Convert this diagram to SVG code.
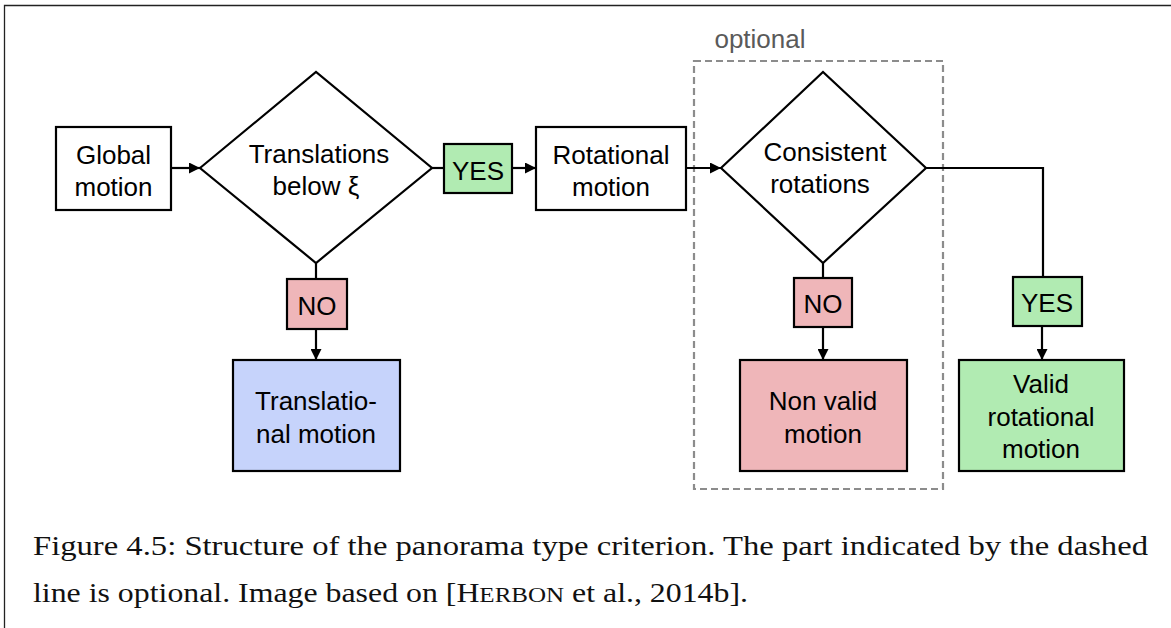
<svg xmlns="http://www.w3.org/2000/svg" width="1171" height="628" viewBox="0 0 1171 628">
  <style>
    .box { stroke: #000; stroke-width: 2.2; }
    .lbl { font-family: "Liberation Sans", Arial, sans-serif; font-size: 26px; fill: #000; text-anchor: middle; }
    .wire { fill: none; stroke: #000; stroke-width: 2.2; }
    .cap { font-family: "Liberation Serif", "Times New Roman", serif; font-size: 28px; fill: #111; }
  </style>
  <defs>
    <marker id="arrow" viewBox="0 0 10 10" refX="10" refY="5" markerWidth="5.5" markerHeight="5" markerUnits="strokeWidth" orient="auto">
      <path d="M0,0 L10,5 L0,10 Z" fill="#000"/>
    </marker>
  </defs>

  <rect width="1171" height="628" fill="#fff"/>
  <!-- page frame -->
  <path d="M4.5,628 L4.5,5.5 L1171,5.5" fill="none" stroke="#222" stroke-width="1.3"/>

  <!-- optional region -->
  <g id="optional-region">
    <rect x="694" y="61" width="249" height="428" fill="none" stroke="#8c8c8c" stroke-width="2.2" stroke-dasharray="7,4"/>
    <text x="760" y="48" font-family="Liberation Sans, Arial, sans-serif" font-size="26" fill="#5a5a5a" text-anchor="middle">optional</text>
  </g>

  <!-- connectors -->
  <g id="connectors">
    <line class="wire" x1="171" y1="168" x2="200" y2="168" marker-end="url(#arrow)"/>
    <line class="wire" x1="432" y1="168" x2="444" y2="168"/>
    <line class="wire" x1="512" y1="168" x2="536" y2="168" marker-end="url(#arrow)"/>
    <line class="wire" x1="686" y1="168" x2="721" y2="168" marker-end="url(#arrow)"/>
    <polyline class="wire" points="926,168 1043,168 1043,277"/>
    <line class="wire" x1="1042" y1="326" x2="1042" y2="360" marker-end="url(#arrow)"/>
    <line class="wire" x1="316" y1="263" x2="316" y2="279"/>
    <line class="wire" x1="316" y1="329" x2="316" y2="360" marker-end="url(#arrow)"/>
    <line class="wire" x1="823" y1="263" x2="823" y2="278"/>
    <line class="wire" x1="823" y1="327" x2="823" y2="360" marker-end="url(#arrow)"/>
  </g>

  <g id="global-motion">
    <rect class="box" x="56" y="127" width="115" height="83" fill="#fff"/>
    <text class="lbl" x="113.5" y="164">Global</text>
    <text class="lbl" x="113.5" y="196">motion</text>
  </g>

  <g id="translations-below">
    <polygon class="box" points="200,168 316,72 432,168 316,263" fill="#fff"/>
    <text class="lbl" x="319" y="163">Translations</text>
    <text class="lbl" x="316" y="195">below ξ</text>
  </g>

  <g id="yes-1">
    <rect class="box" x="444" y="144" width="68" height="49" fill="#b1ebb2"/>
    <text class="lbl" x="478" y="180">YES</text>
  </g>

  <g id="rotational-motion">
    <rect class="box" x="536" y="127" width="150" height="83" fill="#fff"/>
    <text class="lbl" x="611" y="164">Rotational</text>
    <text class="lbl" x="611" y="196">motion</text>
  </g>

  <g id="consistent-rotations">
    <polygon class="box" points="721,168 823,72 926,168 823,263" fill="#fff"/>
    <text class="lbl" x="825" y="161">Consistent</text>
    <text class="lbl" x="820" y="193">rotations</text>
  </g>

  <g id="no-1">
    <rect class="box" x="287" y="279" width="60" height="50" fill="#efb6b9"/>
    <text class="lbl" x="317" y="315">NO</text>
  </g>

  <g id="translational-motion">
    <rect class="box" x="233" y="360" width="167" height="111" fill="#c6d3fb"/>
    <text class="lbl" x="316" y="410">Translatio-</text>
    <text class="lbl" x="316" y="443">nal motion</text>
  </g>

  <g id="no-2">
    <rect class="box" x="794" y="278" width="58" height="49" fill="#efb6b9"/>
    <text class="lbl" x="823" y="313">NO</text>
  </g>

  <g id="non-valid-motion">
    <rect class="box" x="740" y="360" width="167" height="111" fill="#efb6b9"/>
    <text class="lbl" x="823" y="410">Non valid</text>
    <text class="lbl" x="823" y="443">motion</text>
  </g>

  <g id="yes-2">
    <rect class="box" x="1013" y="277" width="69" height="49" fill="#b1ebb2"/>
    <text class="lbl" x="1047" y="312">YES</text>
  </g>

  <g id="valid-rotational-motion">
    <rect class="box" x="959" y="360" width="165" height="111" fill="#b1ebb2"/>
    <text class="lbl" x="1041" y="393">Valid</text>
    <text class="lbl" x="1041" y="426">rotational</text>
    <text class="lbl" x="1041" y="458">motion</text>
  </g>

  <!-- caption -->
  <g id="caption">
    <text class="cap" x="33" y="555" textLength="1115" lengthAdjust="spacingAndGlyphs">Figure 4.5: Structure of the panorama type criterion. The part indicated by the dashed</text>
    <text class="cap" x="33" y="602" textLength="715" lengthAdjust="spacingAndGlyphs">line is optional. Image based on [H<tspan font-size="22">ERBON</tspan> et al., 2014b].</text>
  </g>
</svg>
